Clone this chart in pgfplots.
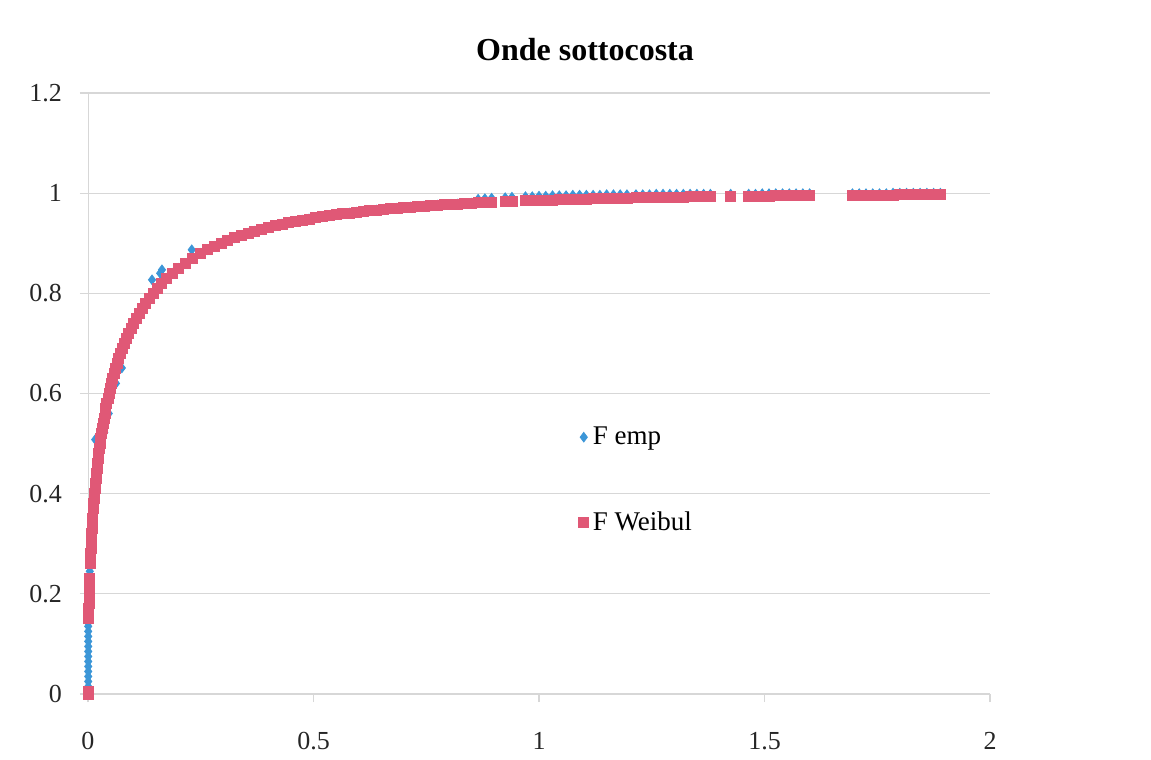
\documentclass[border=0pt]{standalone}
\usepackage{pgfplots}
\pgfplotsset{compat=1.18}
\usepackage{pgfplotstable}
\usepackage{fontspec}
\setmainfont{Liberation Serif}
\definecolor{empblue}{RGB}{60,150,215}
\definecolor{weipink}{RGB}{224,88,118}
\definecolor{gridgray}{RGB}{215,215,215}

\pgfplotstableread{
x y
0.0005 0.005
0.0005 0.015
0.0005 0.025
0.0005 0.035
0.0005 0.045
0.0005 0.055
0.0005 0.065
0.0005 0.075
0.0005 0.085
0.0005 0.095
0.0005 0.105
0.0005 0.115
0.0005 0.125
0.0005 0.135
0.0005 0.142
0.00147 0.15
0.00169 0.16
0.00193 0.17
0.00219 0.18
0.00247 0.19
0.00277 0.20
0.00309 0.21
0.00343 0.22
0.0038 0.23
0.0040 0.245
0.0045 0.255
0.00504 0.26
0.00551 0.27
0.0060 0.28
0.00652 0.29
0.00707 0.30
0.00766 0.31
0.00827 0.32
0.00892 0.33
0.0096 0.34
0.01032 0.35
0.0106 0.357
0.0110 0.364
0.01187 0.37
0.0127 0.38
0.01358 0.39
0.01451 0.40
0.01548 0.41
0.0165 0.42
0.01757 0.43
0.01869 0.44
0.01987 0.45
0.02111 0.46
0.02241 0.47
0.02378 0.48
0.02521 0.49
0.02671 0.50
0.016 0.508
0.022 0.512
0.02996 0.52
0.036 0.522
0.03169 0.53
0.03352 0.54
0.03545 0.55
0.046 0.56
0.03961 0.57
0.04184 0.58
0.0442 0.59
0.04668 0.60
0.0493 0.61
0.062 0.62
0.05497 0.63
0.05804 0.64
0.075 0.651
0.06471 0.66
0.06834 0.67
0.07218 0.68
0.07627 0.69
0.0806 0.70
0.0852 0.71
0.0901 0.72
0.0953 0.73
0.1009 0.74
0.1069 0.75
0.1132 0.76
0.1201 0.77
0.1275 0.78
0.1354 0.79
0.1440 0.80
0.1533 0.81
0.142 0.827
0.160 0.840
0.164 0.847
0.1746 0.83
0.1867 0.84
0.2001 0.85
0.2149 0.86
0.2314 0.87
0.230 0.887
0.2500 0.88
0.265 0.8873
0.28 0.894
0.295 0.9001
0.31 0.9057
0.325 0.9109
0.34 0.9157
0.355 0.9201
0.37 0.9242
0.385 0.928
0.40 0.9316
0.415 0.9349
0.43 0.938
0.445 0.9409
0.46 0.9437
0.475 0.9462
0.49 0.9486
0.505 0.9509
0.52 0.953
0.535 0.955
0.55 0.9569
0.565 0.9587
0.58 0.9604
0.595 0.962
0.61 0.9636
0.625 0.965
0.64 0.9664
0.655 0.9677
0.67 0.9689
0.685 0.9701
0.70 0.9712
0.715 0.9723
0.73 0.9733
0.745 0.9743
0.76 0.9752
0.775 0.9761
0.79 0.9769
0.805 0.9777
0.82 0.9785
0.835 0.9793
0.85 0.980
0.865 0.988
0.88 0.989
0.895 0.990
0.925 0.991
0.94 0.992
0.97 0.993
0.985 0.993
1.0 0.994
1.015 0.994
1.03 0.995
1.045 0.995
1.06 0.995
1.075 0.996
1.09 0.996
1.105 0.996
1.12 0.996
1.135 0.996
1.15 0.997
1.165 0.997
1.18 0.997
1.195 0.997
1.215 0.997
1.23 0.997
1.245 0.997
1.26 0.998
1.275 0.998
1.29 0.998
1.305 0.998
1.32 0.998
1.335 0.998
1.35 0.998
1.365 0.998
1.38 0.998
1.425 0.998
1.465 0.998
1.48 0.998
1.495 0.999
1.51 0.999
1.525 0.999
1.54 0.999
1.555 0.999
1.57 0.999
1.585 0.999
1.60 0.999
1.695 0.999
1.71 0.999
1.725 0.999
1.74 0.999
1.755 0.999
1.77 0.999
1.785 1.000
1.80 1.000
1.815 1.000
1.83 1.000
1.845 1.000
1.86 1.000
1.875 1.000
1.89 1.000
}\Femp

\pgfplotstableread{
x y
0 0
0.00001 0.005
0.00147 0.15
0.00169 0.16
0.00193 0.17
0.00219 0.18
0.00247 0.19
0.00277 0.20
0.00309 0.21
0.00343 0.22
0.0038 0.23
0.00504 0.26
0.00551 0.27
0.0060 0.28
0.00652 0.29
0.00707 0.30
0.00766 0.31
0.00827 0.32
0.00892 0.33
0.0096 0.34
0.01032 0.35
0.01187 0.37
0.0127 0.38
0.01358 0.39
0.01451 0.40
0.01548 0.41
0.0165 0.42
0.01757 0.43
0.01869 0.44
0.01987 0.45
0.02111 0.46
0.02241 0.47
0.02378 0.48
0.02521 0.49
0.02671 0.50
0.02829 0.51
0.02996 0.52
0.03169 0.53
0.03352 0.54
0.03545 0.55
0.03748 0.56
0.03961 0.57
0.04184 0.58
0.0442 0.59
0.04668 0.60
0.0493 0.61
0.05205 0.62
0.05497 0.63
0.05804 0.64
0.06128 0.65
0.06471 0.66
0.06834 0.67
0.07218 0.68
0.07627 0.69
0.0806 0.70
0.0852 0.71
0.0901 0.72
0.0953 0.73
0.1009 0.74
0.1069 0.75
0.1132 0.76
0.1201 0.77
0.1275 0.78
0.1354 0.79
0.1440 0.80
0.1533 0.81
0.1635 0.82
0.1746 0.83
0.1867 0.84
0.2001 0.85
0.2149 0.86
0.2314 0.87
0.2500 0.88
0.265 0.8873
0.28 0.894
0.295 0.9001
0.31 0.9057
0.325 0.9109
0.34 0.9157
0.355 0.9201
0.37 0.9242
0.385 0.928
0.40 0.9316
0.415 0.9349
0.43 0.938
0.445 0.9409
0.46 0.9437
0.475 0.9462
0.49 0.9486
0.505 0.9509
0.52 0.953
0.535 0.955
0.55 0.9569
0.565 0.9587
0.58 0.9604
0.595 0.962
0.61 0.9636
0.625 0.965
0.64 0.9664
0.655 0.9677
0.67 0.9689
0.685 0.9701
0.70 0.9712
0.715 0.9723
0.73 0.9733
0.745 0.9743
0.76 0.9752
0.775 0.9761
0.79 0.9769
0.805 0.9777
0.82 0.9785
0.835 0.9793
0.85 0.980
0.865 0.9806
0.88 0.9813
0.895 0.9819
0.925 0.9831
0.94 0.9836
0.97 0.9847
0.985 0.9851
1.0 0.9856
1.015 0.9861
1.03 0.9865
1.045 0.9869
1.06 0.9873
1.075 0.9877
1.09 0.9881
1.105 0.9884
1.12 0.9888
1.135 0.9891
1.15 0.9894
1.165 0.9897
1.18 0.990
1.195 0.9903
1.215 0.9907
1.23 0.9909
1.245 0.9912
1.26 0.9914
1.275 0.9917
1.29 0.9919
1.305 0.9921
1.32 0.9923
1.335 0.9926
1.35 0.9928
1.365 0.993
1.38 0.9931
1.425 0.9937
1.465 0.9941
1.48 0.9943
1.495 0.9944
1.51 0.9945
1.525 0.9947
1.54 0.9948
1.555 0.995
1.57 0.9951
1.585 0.9952
1.60 0.9953
1.695 0.996
1.71 0.9961
1.725 0.9962
1.74 0.9963
1.755 0.9964
1.77 0.9965
1.785 0.9965
1.80 0.9966
1.815 0.9967
1.83 0.9968
1.845 0.9968
1.86 0.9969
1.875 0.997
1.89 0.9971
}\Fweib

\begin{document}
\begin{tikzpicture}
\useasboundingbox (-44pt,-33pt) rectangle (531.5pt,347pt);
\begin{axis}[
  at={(0,0)}, anchor=south west,
  width=451pt, height=300.5pt, scale only axis,
  xmin=0, xmax=2, ymin=0, ymax=1.2,
  xtick={0,0.5,1,1.5,2},
  ytick={0,0.2,0.4,0.6,0.8,1,1.2},
  xticklabels={0,0.5,1,1.5,2},
  yticklabels={0,0.2,0.4,0.6,0.8,1,1.2},
  axis x line=bottom, axis y line=left,
  axis line style={gridgray, -},
  tick style={gridgray, line width=0.6pt},
  tick align=outside, major tick length=4pt,
  ymajorgrids, grid style={gridgray, line width=0.6pt},
  tick label style={font=\fontsize{13}{15}\selectfont, text=black!85},
  xticklabel style={yshift=-11.5pt},
  yticklabel style={xshift=-5.5pt},
  title={Onde sottocosta},
  title style={font=\fontsize{16}{19}\selectfont\bfseries, at={(0.551,1)}, anchor=center, yshift=15.5pt},
  legend style={at={(0.537,0.356)}, anchor=west, draw=none, fill=none,
    font=\fontsize{13.5}{16}\selectfont, row sep=28pt},
  legend cell align=left,
  clip=false,
]
\addplot[only marks, mark=diamond*, mark size=2.4pt, color=empblue, mark options={draw=empblue, fill=empblue}] table {\Femp};
\addlegendentry{F emp}
\addplot[only marks, mark=square*, mark size=2.5pt, color=weipink, mark options={draw=weipink, fill=weipink}] table {\Fweib};
\addlegendentry{F Weibul}
\end{axis}
\end{tikzpicture}
\end{document}
